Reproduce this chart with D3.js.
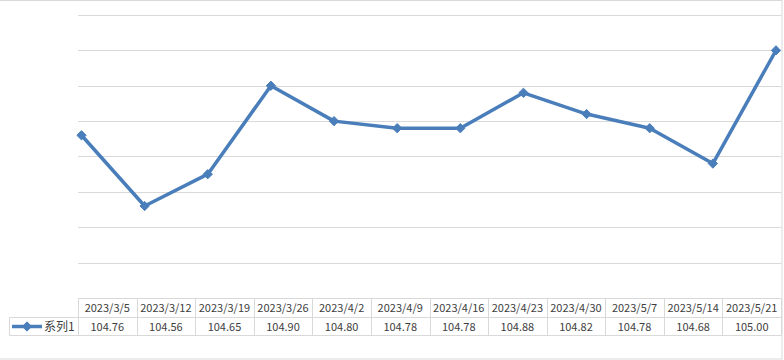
<!DOCTYPE html>
<html>
<head>
<meta charset="utf-8">
<script src="https://cdn.jsdelivr.net/npm/d3@7"></script>
<style>
  html, body { margin: 0; padding: 0; background: #fff; }
  svg { display: block; }
  text { font-family: "Noto Sans CJK SC", "DejaVu Sans", sans-serif; }
</style>
</head>
<body>
<svg id="chart" width="784" height="360"></svg>
<script>
const categories = ["2023/3/5","2023/3/12","2023/3/19","2023/3/26","2023/4/2","2023/4/9","2023/4/16","2023/4/23","2023/4/30","2023/5/7","2023/5/14","2023/5/21"];
const values = [104.76, 104.56, 104.65, 104.90, 104.80, 104.78, 104.78, 104.88, 104.82, 104.78, 104.68, 105.00];
const valueLabels = ["104.76","104.56","104.65","104.90","104.80","104.78","104.78","104.88","104.82","104.78","104.68","105.00"];
const seriesName = "系列1";
const gridTicks = [104.4, 104.5, 104.6, 104.7, 104.8, 104.9, 105.0, 105.1];

const svg = d3.select("#chart");
const lineColor = "#4a7ebb";
const gridColor = "#d9d9d9";
const textColor = "#404040";

// chart border
svg.append("rect").attr("x", -1).attr("y", 0.5).attr("width", 783).attr("height", 358.5)
  .attr("fill", "none").attr("stroke", gridColor).attr("stroke-width", 1);

const plotLeft = 78, plotRight = 781, plotTop = 15, plotBottom = 298;
const y = d3.scaleLinear().domain([104.3, 105.1]).range([plotBottom, plotTop]);
const x = d3.scalePoint().domain(categories).range([81.5, 776]);
const col = d3.scaleBand().domain(categories).range([plotLeft, plotRight]).paddingInner(0).paddingOuter(0);

// gridlines
svg.append("g").selectAll("line").data(gridTicks).join("line")
  .attr("x1", plotLeft).attr("x2", plotRight)
  .attr("y1", d => Math.round(y(d)) + 0.5).attr("y2", d => Math.round(y(d)) + 0.5)
  .attr("stroke", gridColor).attr("stroke-width", 1);

// line
const data = categories.map((c, i) => ({c, v: values[i]}));
svg.append("path").datum(data)
  .attr("fill", "none").attr("stroke", lineColor).attr("stroke-width", 3.5)
  .attr("stroke-linejoin", "round")
  .attr("d", d3.line().x(d => x(d.c)).y(d => y(d.v)));

// markers
const diamond = d3.symbol().type(d3.symbolDiamond2).size(55);
svg.append("g").selectAll("path").data(data).join("path")
  .attr("d", diamond)
  .attr("transform", d => `translate(${x(d.c)},${y(d.v)})`)
  .attr("fill", lineColor).attr("stroke", lineColor).attr("stroke-width", 1);

// data table
const rowTop = 298.5, rowMid = 317.5, rowBot = 335.5, legendLeft = 9.5;
const tbl = svg.append("g").attr("stroke", gridColor).attr("stroke-width", 1);
tbl.append("line").attr("x1", plotLeft).attr("x2", plotRight).attr("y1", rowTop).attr("y2", rowTop);
tbl.append("line").attr("x1", legendLeft).attr("x2", plotRight).attr("y1", rowMid).attr("y2", rowMid);
tbl.append("line").attr("x1", legendLeft).attr("x2", plotRight).attr("y1", rowBot).attr("y2", rowBot);
tbl.append("line").attr("x1", legendLeft).attr("x2", legendLeft).attr("y1", rowMid).attr("y2", rowBot);
const bounds = categories.map(c => col(c)).concat([plotRight]);
tbl.selectAll("line.v").data(bounds).join("line").attr("class", "v")
  .attr("x1", d => Math.round(d) + 0.5).attr("x2", d => Math.round(d) + 0.5)
  .attr("y1", rowTop).attr("y2", rowBot);

svg.append("g").selectAll("text").data(categories).join("text")
  .attr("x", d => col(d) + col.bandwidth() / 2).attr("y", (rowTop + rowMid) / 2 + 4)
  .attr("text-anchor", "middle").attr("font-size", 11).attr("fill", textColor)
  .text(d => d);
svg.append("g").selectAll("text").data(categories).join("text")
  .attr("x", d => col(d) + col.bandwidth() / 2).attr("y", (rowMid + rowBot) / 2 + 4)
  .attr("text-anchor", "middle").attr("font-size", 11).attr("fill", textColor)
  .text((d, i) => valueLabels[i]);

// legend key
const ly = (rowMid + rowBot) / 2;
svg.append("line").attr("x1", 12).attr("x2", 42).attr("y1", ly).attr("y2", ly)
  .attr("stroke", lineColor).attr("stroke-width", 3.5);
svg.append("path").attr("d", diamond).attr("transform", `translate(27,${ly})`)
  .attr("fill", lineColor).attr("stroke", lineColor);
svg.append("text").attr("x", 44).attr("y", ly + 4.5).attr("font-size", 12)
  .attr("fill", textColor).text(seriesName);
</script>
</body>
</html>
